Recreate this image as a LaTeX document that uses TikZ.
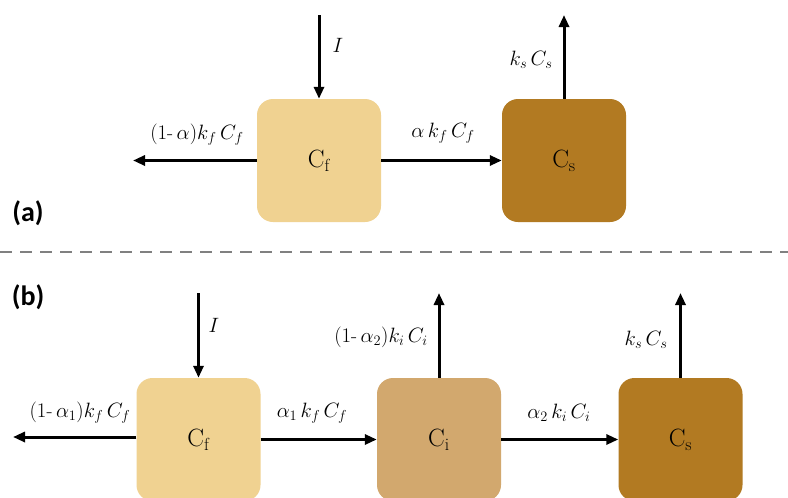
\documentclass[tikz,border=0pt]{standalone}
\usepackage{amsmath}
\usepackage{fontspec}
\newfontfamily\panelfont{Carlito}
\usetikzlibrary{arrows.meta}
\definecolor{cfcol}{RGB}{240,210,145}
\definecolor{cicol}{RGB}{210,168,110}
\definecolor{cscol}{RGB}{178,122,34}
\definecolor{sepcol}{RGB}{128,128,128}
\tikzset{
  pool/.style={rounded corners=16pt, minimum width=124pt, minimum height=123pt,
    inner sep=0pt, font=\fontsize{25}{30}\selectfont},
  flow/.style={line width=3pt, -{Triangle[length=12pt,width=10pt]}},
  rate/.style={font=\fontsize{20}{24}\selectfont, inner sep=0pt},
  panel/.style={font=\panelfont\bfseries\fontsize{28}{32}\selectfont, inner sep=0pt}
}
\begin{document}
\begin{tikzpicture}[x=1pt,y=-1pt]
\useasboundingbox (0,0) rectangle (788,498);
\fill[white] (0,0) rectangle (788,498);

% ---- panel (a): two pools ----
\node[pool, fill=cfcol] (af) at (319,160.5) {$\mathrm{C_f}$};
\node[pool, fill=cscol] (as) at (564,160.5) {$\mathrm{C_s}$};
\coordinate (ain) at (319,15);
\coordinate (aout) at (133,160.5);
\coordinate (aup) at (564,15);
\draw[flow] (ain) -- (af.north);
\draw[flow] (af.west) -- (aout);
\draw[flow] (af.east) -- (as.west);
\draw[flow] (as.north) -- (aup);
\node[rate] (aI) at (338,45) {$I$};
\node[rate] (aloss) at (197,135) {$(1\text{-}\,\alpha)k_f\,C_f$};
\node[rate] (atr) at (443,133) {$\alpha\,k_f\,C_f$};
\node[rate] (aks) at (531,60) {$k_s\,C_s$};
\node[panel] (pa) at (28,213) {(a)};

% ---- separator ----
\coordinate (sepl) at (0,252);
\coordinate (sepr) at (788,252);
\draw[sepcol, line width=2.5pt, dash pattern=on 12pt off 8pt] (sepl) -- (sepr);

% ---- panel (b): three pools ----
\node[panel] (pb) at (28,297) {(b)};
\node[pool, fill=cfcol] (bf) at (198.5,439.5) {$\mathrm{C_f}$};
\node[pool, fill=cicol] (bi) at (439,439.5) {$\mathrm{C_i}$};
\node[pool, fill=cscol] (bs) at (680.5,439.5) {$\mathrm{C_s}$};
\coordinate (bin) at (198.5,293);
\coordinate (bout) at (13,437);
\coordinate (biup) at (439,293);
\coordinate (bsup) at (680.5,293);
\draw[flow] (bin) -- (bf.north);
\draw[flow] (bf.west |- bout) -- (bout);
\draw[flow] (bf.east) -- (bi.west);
\draw[flow] (bi.east) -- (bs.west);
\draw[flow] (bi.north) -- (biup);
\draw[flow] (bs.north) -- (bsup);
\node[rate] (bI) at (214,325) {$I$};
\node[rate] (bloss) at (80,413) {$(1\text{-}\,\alpha_1)k_f\,C_f$};
\node[rate] (btr1) at (312,413) {$\alpha_1\,k_f\,C_f$};
\node[rate] (biloss) at (381,337) {$(1\text{-}\,\alpha_2)k_i\,C_i$};
\node[rate] (btr2) at (559,413) {$\alpha_2\,k_i\,C_i$};
\node[rate] (bks) at (646,340) {$k_s\,C_s$};
\end{tikzpicture}
\end{document}
